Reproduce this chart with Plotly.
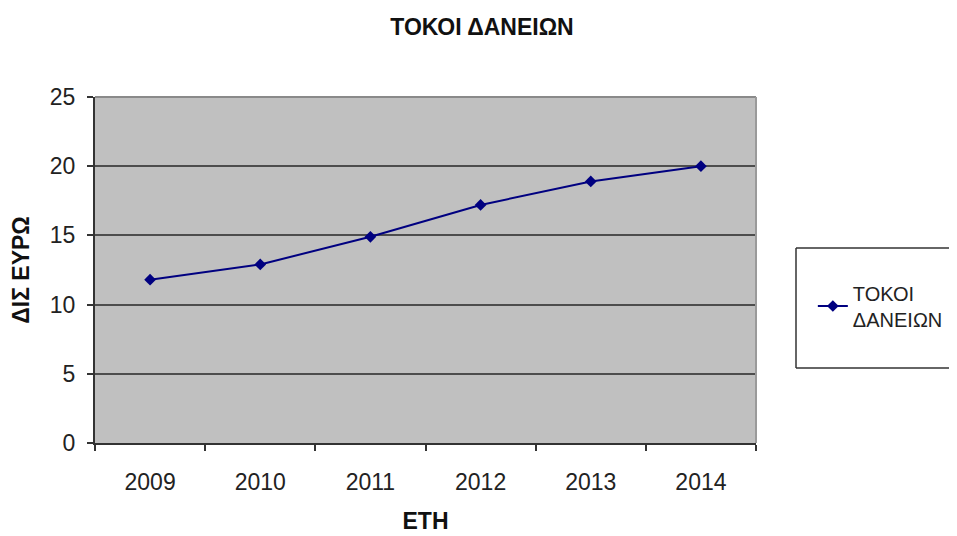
import plotly.graph_objects as go

years = ["2009", "2010", "2011", "2012", "2013", "2014"]
tokoi = [11.8, 12.9, 14.9, 17.2, 18.9, 20.0]
series_name = "ΤΟΚΟΙ<br>ΔΑΝΕΙΩΝ"
title_text = "ΤΟΚΟΙ ΔΑΝΕΙΩΝ"
x_title = "ΕΤΗ"
y_title = "ΔΙΣ ΕΥΡΩ"
y_ticks = [0, 5, 10, 15, 20, 25]

FONT = "Liberation Sans, Arial, sans-serif"

fig = go.Figure()
fig.add_trace(go.Scatter(
    x=years, y=tokoi, name=series_name, mode="lines+markers",
    line=dict(color="#000080", width=2),
    marker=dict(symbol="diamond", size=9, color="#000080"),
))

# legend frame (open on the right, running off the page like the reference)
bx0 = (796 - 95) / 661
by0 = (443 - 368) / 346
by1 = (443 - 248) / 346
frame = dict(color="#333333", width=1.5)

# page has an 8px body offset; margins compensate so the plot lands at 95..756 x 97..443
fig.update_layout(
    width=957, height=536,
    margin=dict(l=87, r=209, t=89, b=101),
    paper_bgcolor="white",
    plot_bgcolor="#c0c0c0",
    font=dict(family=FONT, size=23, color="#222222"),
    title=dict(text="<b>" + title_text + "</b>", x=(482 - 8) / 957, xanchor="center",
               y=1 - 19 / 536, yanchor="middle", yref="container",
               font=dict(size=23, color="#111111")),
    showlegend=True,
    legend=dict(x=1.086, xanchor="left", y=0.396, yanchor="middle",
                bgcolor="rgba(0,0,0,0)", borderwidth=0,
                font=dict(size=20, color="#222222")),
    xaxis=dict(
        type="category", range=[-0.5, 5.5], tickson="boundaries",
        ticks="outside", ticklen=6, tickwidth=2, tickcolor="#333333",
        showline=True, linecolor="#333333", linewidth=2,
        showgrid=False, zeroline=False, ticklabelstandoff=17,
        title=dict(text="<b>" + x_title + "</b>", standoff=19,
                   font=dict(size=23, color="#111111")),
        tickfont=dict(size=23),
    ),
    yaxis=dict(
        range=[0, 25], tickvals=y_ticks,
        ticks="outside", ticklen=6, tickwidth=2, tickcolor="#333333",
        showline=True, linecolor="#333333", linewidth=2,
        showgrid=True, gridcolor="#4d4d4d", gridwidth=2, zeroline=False,
        ticklabelstandoff=7,
        title=dict(text="<b>" + y_title + "</b>", standoff=15,
                   font=dict(size=23, color="#111111")),
        tickfont=dict(size=23),
    ),
    shapes=[
        dict(type="line", xref="paper", yref="paper", x0=0, x1=1, y0=1, y1=1,
             line=dict(color="#8a8a8a", width=2), layer="above"),
        dict(type="line", xref="paper", yref="paper", x0=1, x1=1, y0=0, y1=1,
             line=dict(color="#9a9a9a", width=2), layer="above"),
        dict(type="line", xref="paper", yref="paper", x0=bx0, x1=1.4, y0=by1, y1=by1,
             line=frame, layer="above"),
        dict(type="line", xref="paper", yref="paper", x0=bx0, x1=1.4, y0=by0, y1=by0,
             line=frame, layer="above"),
        dict(type="line", xref="paper", yref="paper", x0=bx0, x1=bx0, y0=by0, y1=by1,
             line=frame, layer="above"),
    ],
)

fig.write_html("out.html")
